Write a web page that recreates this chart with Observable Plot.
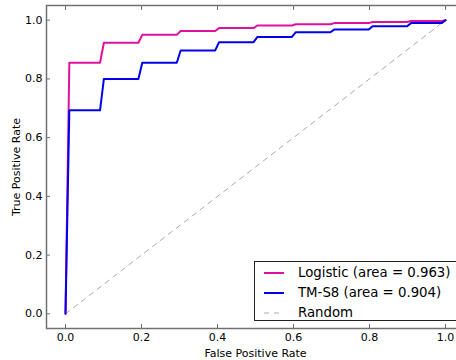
<!DOCTYPE html>
<html><head><meta charset="utf-8">
<script src="https://cdn.jsdelivr.net/npm/d3@7"></script>
<script src="https://cdn.jsdelivr.net/npm/@observablehq/plot@0.6"></script>
<style>
body{margin:0;background:#fff;font-family:"DejaVu Sans",sans-serif;}
#wrap{position:relative;width:456px;height:360px;overflow:hidden;}
#legend{position:absolute;left:254px;top:261px;width:230px;height:58px;border:1px solid #222;background:#fff;font-size:13.3px;color:#000;}
.row{position:absolute;left:0;height:20px;line-height:20px;white-space:nowrap;}
.row svg{position:absolute;left:8px;top:0;}
.row span{position:absolute;left:43px;top:0;}
</style></head>
<body><div id="wrap"></div>
<script>
const fpr = [0, 0.0101, 0.0909, 0.1010, 0.1919, 0.2020, 0.2929, 0.3030, 0.3939, 0.4040, 0.4949, 0.5051, 0.5960, 0.6061, 0.6970, 0.7071, 0.7980, 0.8081, 0.8990, 0.9091, 0.9899, 1.0];
const tprLogistic = [0, 0.855, 0.855, 0.923, 0.923, 0.950, 0.950, 0.963, 0.963, 0.973, 0.973, 0.982, 0.982, 0.986, 0.986, 0.990, 0.990, 0.994, 0.994, 0.997, 0.997, 1.0];
const tprTM = [0, 0.693, 0.693, 0.800, 0.800, 0.855, 0.855, 0.897, 0.897, 0.925, 0.925, 0.943, 0.943, 0.959, 0.959, 0.968, 0.968, 0.979, 0.979, 0.990, 0.990, 1.0];
const randomX = [0, 1];
const randomY = [0, 1];
const xTicks = [0, 0.2, 0.4, 0.6, 0.8, 1.0];
const yTicks = [0, 0.2, 0.4, 0.6, 0.8, 1.0];
const seriesNames = ["Logistic (area = 0.963)", "TM-S8 (area = 0.904)", "Random"];
const seriesColors = ["#e0109f", "#0000ee", "#aaaaaa"];

const logistic = fpr.map((x, i) => ({x, y: tprLogistic[i]}));
const tm = fpr.map((x, i) => ({x, y: tprTM[i]}));
const rnd = randomX.map((x, i) => ({x, y: randomY[i]}));
const grey = "#707070";
const fmt = d3.format(".1f");

const chart = Plot.plot({
  width: 456, height: 360,
  marginLeft: 46, marginRight: -8, marginTop: 5, marginBottom: 32,
  style: {fontFamily: "DejaVu Sans, sans-serif", fontSize: "11px", color: "#000", background: "#fff"},
  x: {domain: [-0.05, 1.05]},
  y: {domain: [-0.05, 1.05]},
  marks: [
    Plot.line(rnd, {x: "x", y: "y", stroke: seriesColors[2], strokeWidth: 1, strokeDasharray: "5,5"}),
    Plot.line(logistic, {x: "x", y: "y", stroke: seriesColors[0], strokeWidth: 2}),
    Plot.line(tm, {x: "x", y: "y", stroke: seriesColors[1], strokeWidth: 2}),
    Plot.axisX({anchor: "bottom", ticks: xTicks, tickFormat: fmt, tickSize: -4, tickPadding: 9, stroke: grey, color: "#000", label: "False Positive Rate", labelAnchor: "center", labelArrow: "none", labelOffset: 28}),
    Plot.axisX({anchor: "top", ticks: xTicks, tickFormat: () => "", tickSize: -4, stroke: grey, label: null}),
    Plot.axisY({anchor: "left", ticks: yTicks, tickFormat: fmt, tickSize: -4, tickPadding: 8, stroke: grey, color: "#000", label: "True Positive Rate", labelAnchor: "center", labelArrow: "none", labelOffset: 34}),
    Plot.frame({stroke: grey, strokeWidth: 1.5})
  ]
});
const wrap = document.getElementById("wrap");
wrap.appendChild(chart);

const legend = document.createElement("div");
legend.id = "legend";
seriesNames.forEach((name, i) => {
  const row = document.createElement("div");
  row.className = "row";
  row.style.top = (1 + i * 20) + "px";
  const dash = i === 2 ? ' stroke-dasharray="5,5"' : '';
  const sw = i === 2 ? 1 : 2;
  row.innerHTML = `<svg width="22" height="20"><line x1="1" x2="21" y1="10" y2="10" stroke="${seriesColors[i]}" stroke-width="${sw}"${dash}/></svg><span>${name}</span>`;
  legend.appendChild(row);
});
wrap.appendChild(legend);
</script></body></html>
